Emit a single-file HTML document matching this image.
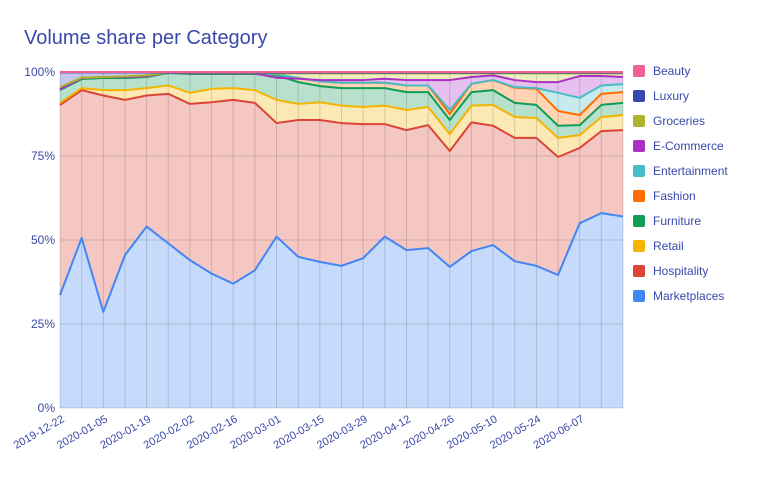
<!DOCTYPE html><html><head><style>body{margin:0;background:#fff;width:770px;height:476px;overflow:hidden;font-family:"Liberation Sans",sans-serif}</style></head><body>
<svg id="s" width="770" height="476" xmlns="http://www.w3.org/2000/svg"></svg>
<script>
const M=[33.6,50.6,28.6,45.5,54,49,44,40,37,41,51,45,43.5,42.3,44.6,51,47,47.6,42,46.7,48.5,43.7,42.3,39.6,55,58,57];
const H=[90.2,94.6,93,91.7,93,93.5,90.5,91,91.7,90.8,84.8,85.7,85.7,84.8,84.5,84.5,82.7,84.2,76.5,85,84,80.4,80.4,74.7,77.4,82.4,82.7];
const R=[90.8,95.2,94.6,94.6,95.2,96,93.8,95,95.2,94.6,91.7,90.5,91,90,89.6,90,88.7,89.6,81.5,90,90.2,86.6,86.3,80.4,81.2,86.6,87.2];
const Fu=[94.6,97.9,98.2,98.2,98.5,99.7,99.4,99.4,99.4,99.4,99,97,95.8,95.2,95.2,95.2,94,94,85.7,94,94.6,90.8,90.2,84,84.2,90.2,90.8];
const Fa=[94.9,98.2,98.5,98.5,98.8,99.8,99.6,99.6,99.6,99.6,99.3,98.2,97.2,96.8,96.8,96.8,96,96,87.5,96.5,97.6,95.3,95,88.4,87.2,93.5,94];
const En=Fa.slice();En[18]=88.7;En[21]=95.5;En[22]=95.2;En[23]=93.8;En[24]=92.3;En[25]=96;En[26]=96.4;
const Ec=En.slice();[[10,98.3],[11,98],[12,97.6],[13,97.6],[14,97.6],[15,98],[16,97.6],[17,97.6],[18,97.6],[19,98.5],[20,99],[21,97.6],[22,97],[23,97],[24,98.8],[25,98.8],[26,98.5]].forEach(a=>Ec[a[0]]=a[1]);
const Gr=Ec.map((v,i)=>i<10?[95.5,98.3,98.5,98.7,99,99.8,99.7,99.7,99.7,99.7][i]:99.6);
const Lu=Gr.map((v,i)=>i<5?99.9:99.8);
const Be=Gr.map(()=>100);
const Z=M.map(()=>0);
const layers=[[Z,M,'#4285F4','#c6dafc'],[M,H,'#DB4437','#f4c7c3'],[H,R,'#F4B400','#fce8b2'],[R,Fu,'#0F9D58','#b7e1cd'],[Fu,Fa,'#FF6D00','#ffd3b3'],[Fa,En,'#46BDC6','#c7eaec'],[En,Ec,'#AB30C4','#e6c0ee'],[Ec,Gr,'#ABB42C','#eeeec0'],[Gr,Lu,'#3949AB','#c3c8e8'],[Lu,Be,'#F06292','#fbc8da']];
const X=i=>60+i*563/26,Y=v=>408-v*3.36;
let h='<text x="24" y="44" font-size="20" fill="#3949ab">Volume share per Category</text>';
layers.forEach(l=>{let p=l[1].map((v,i)=>X(i)+','+Y(v)).join(' ');let q=l[0].map((v,i)=>X(i)+','+Y(v)).reverse().join(' ');h+=`<polygon points="${p} ${q}" fill="${l[3]}"/>`;});
for(let i=0;i<27;i++)h+=`<line x1="${X(i)}" y1="72" x2="${X(i)}" y2="408" stroke="rgba(0,0,0,0.14)"/>`;
[0,25,50,75,100].forEach(v=>{h+=`<line x1="60" y1="${Y(v)}" x2="623" y2="${Y(v)}" stroke="rgba(0,0,0,0.14)"/><text x="55" y="${Y(v)+4}" font-size="12" text-anchor="end" fill="#3949ab">${v}%</text>`});
layers.forEach(l=>{h+=`<polyline points="${l[1].map((v,i)=>X(i)+','+Y(v)).join(' ')}" fill="none" stroke="${l[2]}" stroke-width="2" stroke-linejoin="round"/>`;});
const d=['2019-12-22','2020-01-05','2020-01-19','2020-02-02','2020-02-16','2020-03-01','2020-03-15','2020-03-29','2020-04-12','2020-04-26','2020-05-10','2020-05-24','2020-06-07'];
d.forEach((t,k)=>{const x=X(k*2);h+=`<text transform="translate(${x+5},${421}) rotate(-30)" font-size="11" text-anchor="end" fill="#3949ab">${t}</text>`});
const names=['Beauty','Luxury','Groceries','E-Commerce','Entertainment','Fashion','Furniture','Retail','Hospitality','Marketplaces'];
names.forEach((n,i)=>{const c=layers[9-i][2];const y=71+i*25;h+=`<rect x="633" y="${y-6}" width="12" height="12" rx="2" fill="${c}"/><text x="653" y="${y+4}" font-size="12" fill="#3949ab">${n}</text>`});
document.getElementById('s').innerHTML=h;
</script></body></html>
